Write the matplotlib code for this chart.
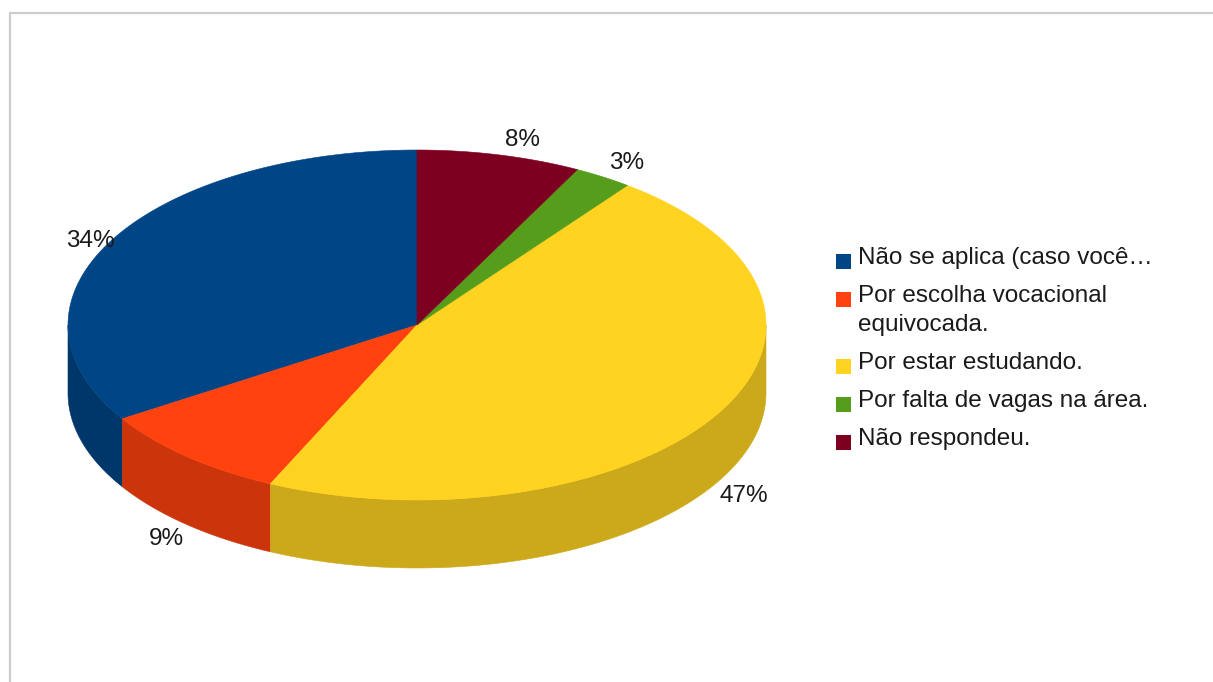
import numpy as np
import matplotlib
matplotlib.use("Agg")
import matplotlib.pyplot as plt
from matplotlib.patches import Polygon, Rectangle
from matplotlib.lines import Line2D

plt.rcParams['font.family'] = ['Liberation Sans', 'DejaVu Sans']

categories = ["Não se aplica (caso você…",
              "Por escolha vocacional\nequivocada.",
              "Por estar estudando.",
              "Por falta de vagas na área.",
              "Não respondeu."]
values = [34.0, 9.1, 46.6, 2.7, 7.6]
colors = ["#004586", "#ff420e", "#ffd320", "#579d1c", "#7e0021"]

W, H = 1213, 682
fig = plt.figure(figsize=(W / 100, H / 100), dpi=100)
ax = fig.add_axes([0, 0, 1, 1])
ax.set_xlim(0, W)
ax.set_ylim(H, 0)
ax.axis('off')

# frame
ax.add_line(Line2D([10, 10, W], [H, 13, 13], color='#cccccc', lw=1.6,
                   solid_joinstyle='miter'))

cx, cy, rx, ry, depth = 417, 325, 349, 175, 68
text_color = '#1a1a1a'
fs = 17.5


def shade(c, f=0.8):
    r, g, b = matplotlib.colors.to_rgb(c)
    return (r * f, g * f, b * f)


def pt(t):
    return cx + rx * np.cos(np.radians(t)), cy - ry * np.sin(np.radians(t))


total = float(sum(values))
starts = []
a = 90.0
for v in values:
    starts.append((a, a + 360.0 * v / total))
    a += 360.0 * v / total

# side walls (front half only)
for (a1, a2), c in zip(starts, colors):
    lo, hi = max(a1, 180.0), min(a2, 360.0)
    if hi <= lo:
        continue
    t = np.linspace(lo, hi, 120)
    xs = cx + rx * np.cos(np.radians(t))
    ys = cy - ry * np.sin(np.radians(t))
    poly = np.column_stack([np.concatenate([xs, xs[::-1]]),
                            np.concatenate([ys, ys[::-1] + depth])])
    ax.add_patch(Polygon(poly, closed=True, facecolor=shade(c), edgecolor=shade(c),
                         lw=0.4, zorder=2))

# top wedges
for (a1, a2), c in zip(starts, colors):
    t = np.linspace(a1, a2, 240)
    xs = cx + rx * np.cos(np.radians(t))
    ys = cy - ry * np.sin(np.radians(t))
    poly = np.column_stack([np.concatenate([[cx], xs]), np.concatenate([[cy], ys])])
    ax.add_patch(Polygon(poly, closed=True, facecolor=c, edgecolor=c, lw=0.4, zorder=3))

# data labels
for (a1, a2), v in zip(starts, values):
    m = 0.5 * (a1 + a2)
    cm, sm = np.cos(np.radians(m)), np.sin(np.radians(m))
    x, y = pt(m)
    ha = 'left' if cm > 0 else 'right'
    if sm < 0:
        y += depth
        x += 4 * cm
        y -= 4 * sm
        va = 'top'
    else:
        x += 5 + 2 * cm
        y -= 8 * sm
        y += 4
        va = 'bottom' if sm > 0.6 else 'center'
    ax.text(x, y, f"{v:.0f}%", ha=ha, va=va, fontsize=fs, color=text_color, zorder=5)

# legend
lx, ly = 836, 261
sq = 15
line_h = 29
gap = 38
y = ly
for cat, c in zip(categories, colors):
    nlines = cat.count("\n") + 1
    ax.add_patch(Rectangle((lx, y - sq / 2), sq, sq, facecolor=c, edgecolor='none', zorder=5))
    ax.text(lx + sq + 7, y - line_h / 2 + 0.5, cat, ha='left', va='top', fontsize=fs,
            color=text_color, linespacing=1.4, zorder=5)
    y += gap + (nlines - 1) * line_h

fig.savefig("out.png", dpi=100)
